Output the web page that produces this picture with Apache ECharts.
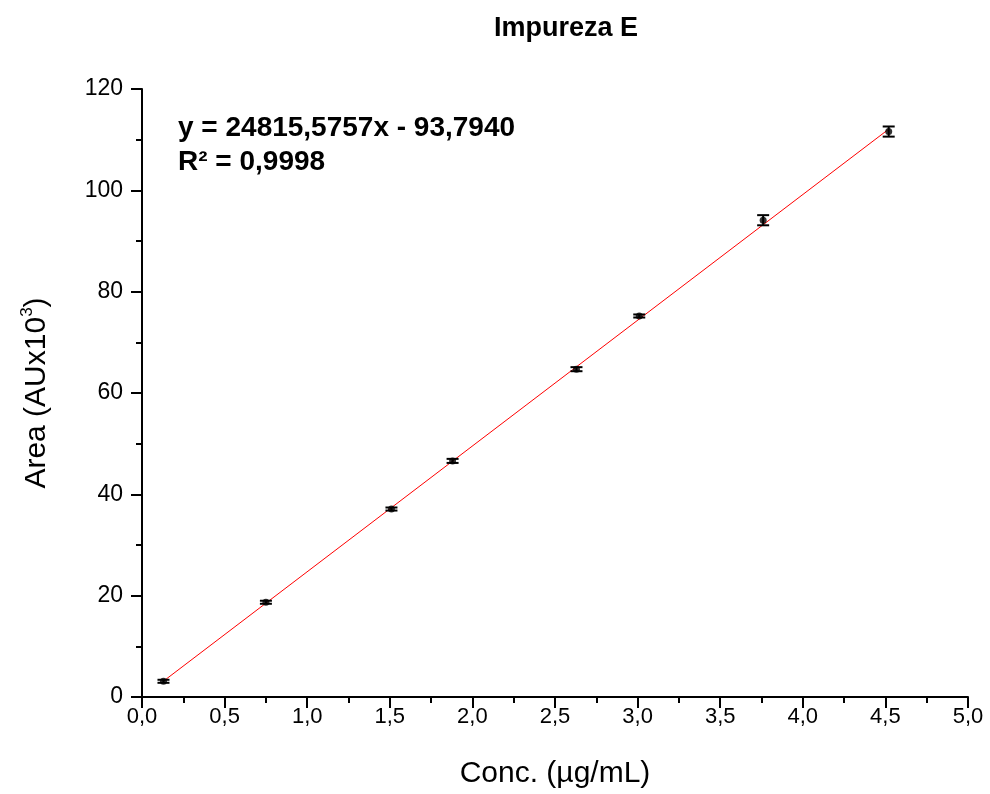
<!DOCTYPE html>
<html>
<head>
<meta charset="utf-8">
<script src="https://cdn.jsdelivr.net/npm/echarts@6/dist/echarts.min.js"></script>
<style>
  html, body { margin: 0; padding: 0; background: #fff; }
  #chart { width: 990px; height: 794px; }
</style>
</head>
<body>
<div id="chart"></div>
<script>
// Calibration data: concentration (µg/mL) vs peak area (AU x 10^3)
const concentrations = [0.13, 0.75, 1.51, 1.88, 2.63, 3.01, 3.76, 4.52];
const areas = [3.1, 18.7, 37.1, 46.6, 64.7, 75.2, 94.1, 111.6];
const areaErrors = [0.3, 0.3, 0.3, 0.4, 0.4, 0.3, 1.0, 1.0];

// Linear fit reported on the chart (area in AU, x in µg/mL -> scaled by 1e-3)
const fitSlope = 24815.5757;
const fitIntercept = -93.7940;
const fitR2 = 0.9998;

const xTicks = ['0,0','0,5','1,0','1,5','2,0','2,5','3,0','3,5','4,0','4,5','5,0'];

const FONT = 'Liberation Sans, Arial, sans-serif';
const comma = (v, d) => v.toFixed(d).replace('.', ',');
const fitY = x => (fitSlope * x + fitIntercept) / 1000;
const xFirst = concentrations[0];
const xLast = concentrations[concentrations.length - 1];

const chart = echarts.init(document.getElementById('chart'));

const points = concentrations.map((c, i) => [c, areas[i]]);
const bars = concentrations.map((c, i) => [c, areas[i] - areaErrors[i], areas[i] + areaErrors[i]]);

chart.setOption({
  animation: false,
  backgroundColor: '#fff',
  title: {
    text: 'Impureza E',
    left: 561, top: 10, textAlign: 'center',
    textStyle: { fontFamily: FONT, fontWeight: 'bold', fontSize: 27, color: '#000' }
  },
  grid: { left: 142, right: 22, top: 89, bottom: 97, containLabel: false },
  xAxis: {
    type: 'value', min: 0, max: 5, interval: 0.5,
    name: 'Conc. (µg/mL)', nameLocation: 'middle', nameGap: 62,
    nameTextStyle: { fontFamily: FONT, fontSize: 30, color: '#000' },
    axisLine: { show: true, onZero: false, lineStyle: { color: '#000', width: 2 } },
    axisTick: { show: true, inside: false, length: 11, lineStyle: { color: '#000', width: 2 } },
    minorTick: { show: true, splitNumber: 2, length: 6, lineStyle: { color: '#000', width: 2 } },
    splitLine: { show: false },
    axisLabel: {
      margin: 9, fontFamily: FONT, fontSize: 22, color: '#000',
      formatter: (v) => xTicks[Math.round(v / 0.5)]
    }
  },
  yAxis: {
    type: 'value', min: 0, max: 120, interval: 20,
    name: 'Area (AUx10{sup|3})', nameLocation: 'middle', nameGap: 87, nameRotate: 90,
    nameTextStyle: {
      fontFamily: FONT, fontSize: 30, color: '#000', lineHeight: 36,
      rich: { sup: { fontFamily: FONT, fontSize: 17, color: '#000', verticalAlign: 'top', lineHeight: 17 } }
    },
    axisLine: { show: true, onZero: false, lineStyle: { color: '#000', width: 2 } },
    axisTick: { show: true, inside: false, length: 11, lineStyle: { color: '#000', width: 2 } },
    minorTick: { show: true, splitNumber: 2, length: 6, lineStyle: { color: '#000', width: 2 } },
    splitLine: { show: false },
    axisLabel: {
      margin: 19, fontFamily: FONT, fontSize: 23, color: '#000',
      formatter: (v) => String(v)
    }
  },
  graphic: [
    {
      type: 'text', left: 178, top: 111,
      style: {
        text: 'y = ' + comma(fitSlope, 4) + 'x - ' + comma(-fitIntercept, 4) + '\nR² = ' + comma(fitR2, 4),
        font: 'bold 28px "Liberation Sans", Arial, sans-serif', fill: '#000', lineHeight: 34
      }
    }
  ],
  series: [
    {
      name: 'fit', type: 'line',
      data: [[xFirst, fitY(xFirst)], [xLast, fitY(xLast)]],
      symbol: 'none', lineStyle: { color: '#ff0000', width: 1 }, z: 3
    },
    {
      name: 'error', type: 'custom',
      data: bars,
      renderItem: (params, api) => {
        const x = api.value(0);
        const lo = api.coord([x, api.value(1)]);
        const hi = api.coord([x, api.value(2)]);
        const half = 6;
        const style = { stroke: '#000', lineWidth: 2 };
        return {
          type: 'group',
          children: [
            { type: 'line', shape: { x1: lo[0], y1: lo[1], x2: hi[0], y2: hi[1] }, style },
            { type: 'line', shape: { x1: lo[0] - half, y1: lo[1], x2: lo[0] + half, y2: lo[1] }, style },
            { type: 'line', shape: { x1: hi[0] - half, y1: hi[1], x2: hi[0] + half, y2: hi[1] }, style }
          ]
        };
      },
      z: 4
    },
    {
      name: 'area', type: 'scatter', data: points,
      symbol: 'circle', symbolSize: 7, itemStyle: { color: '#000' }, z: 5
    }
  ]
});
</script>
</body>
</html>
